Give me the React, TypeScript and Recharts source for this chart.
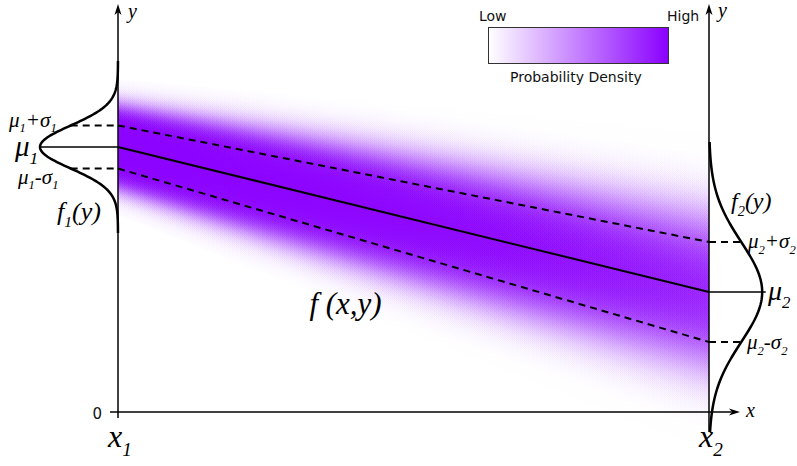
import React from "react";
import {
  ComposedChart,
  Area,
  Line,
  XAxis,
  YAxis,
  ReferenceLine,
  ReferenceDot,
} from "recharts";

const W = 797;
const H = 466;

// the two ends of the interval and the normal at each end
const ENDS = ["x1", "x2"];
const END_X = [0, 10];
const MEANS = [53, 24];
const SIGMAS = [4.3, 10];
// height of the marginal curves f1(y), f2(y), in x units
const CURVE_PEAKS = [1.32, 0.9];
// density strength at each end (colour saturates softly)
const DENSITY_PEAKS = [9, 2];
const BAND_SPREAD = 0.88;

const PURPLE = "#8a00ff";
const SERIF = "'Liberation Serif', 'DejaVu Serif', serif";
const SANS = "'DejaVu Sans', sans-serif";

// plot units -> pixels
const X0_PX = 118;
const X_SCALE = 59.1;
const Y0_PX = 412;
const Y_SCALE = 5;
const X_DOMAIN = [-X0_PX / X_SCALE, (W - X0_PX) / X_SCALE];
const Y_DOMAIN = [(Y0_PX - H) / Y_SCALE, Y0_PX / Y_SCALE];
const Y_TOP = (Y0_PX - 4) / Y_SCALE;
const X_TIP = (740 - X0_PX) / X_SCALE;

// nested bands at mean +- c*sigma, faded with a horizontal gradient
const STEP = 0.05;
const LEVELS = Array.from({ length: 72 }, (_, i) => STEP * (i + 1));
const STOPS = Array.from({ length: 11 }, (_, i) => i / 10);

const intensity = (z: number, t: number) => {
  const s = Math.pow(DENSITY_PEAKS[0], 1 - t) * Math.pow(DENSITY_PEAKS[1], t);
  return 1 - Math.exp(-s * Math.exp((-z * z) / 2));
};

const bandAlpha = (k: number, t: number) => {
  const trans = (j: number) =>
    j >= LEVELS.length ? 1 : 1 - intensity(LEVELS[j] - STEP / 2, t);
  const inner = trans(k);
  const outer = trans(k + 1);
  if (outer <= 1e-6) return 0;
  return Math.max(0, 1 - inner / outer);
};

const ROWS = END_X.map((x, i) => {
  const row: any = {
    x,
    mean: MEANS[i],
    upper: MEANS[i] + SIGMAS[i],
    lower: MEANS[i] - SIGMAS[i],
  };
  LEVELS.forEach((c, k) => {
    const half = c * BAND_SPREAD * SIGMAS[i];
    row[`b${k}`] = [MEANS[i] - half, MEANS[i] + half];
  });
  return row;
});

// marginal normal curve drawn sideways off the axis at END_X[i]
const marginal = (i: number, side: number, from: number, to: number) => {
  const pts = [];
  for (let z = from; z <= to + 1e-9; z += 0.05) {
    pts.push({
      x: END_X[i] + side * CURVE_PEAKS[i] * Math.exp((-z * z) / 2),
      y: MEANS[i] + z * SIGMAS[i],
    });
  }
  return pts;
};
const F1 = marginal(0, -1, -4, 4);
const F2 = marginal(1, 1, -2.8, 3);

type Part = [string, boolean?];

const MathText = ({
  x,
  y,
  size,
  parts,
  anchor = "start",
}: {
  x: number;
  y: number;
  size: number;
  parts: Part[];
  anchor?: string;
}) => {
  let shift = 0;
  return (
    <text
      x={x}
      y={y}
      fontFamily={SERIF}
      fontStyle="italic"
      fontSize={size}
      textAnchor={anchor as any}
      fill="#000"
    >
      {parts.map(([s, sub], i) => {
        const target = sub ? size * 0.28 : 0;
        const dy = target - shift;
        shift = target;
        return (
          <tspan key={i} dy={dy} fontSize={sub ? size * 0.6 : size}>
            {s}
          </tspan>
        );
      })}
    </text>
  );
};

const Arrow = ({ cx, cy, dir }: { cx: number; cy: number; dir: string }) => {
  const d =
    dir === "up"
      ? `M${cx},${cy} L${cx - 3.5},${cy + 11} L${cx},${cy + 8} L${cx + 3.5},${cy + 11} Z`
      : `M${cx},${cy} L${cx - 11},${cy - 3.5} L${cx - 8},${cy} L${cx - 11},${cy + 3.5} Z`;
  return <path d={d} fill="#000" />;
};

// places any svg node at a data point
const at = (
  key: string,
  x: number,
  y: number,
  draw: (cx: number, cy: number) => React.ReactElement
) => (
  <ReferenceDot
    key={key}
    x={x}
    y={y}
    r={0}
    ifOverflow="visible"
    shape={(p: any) => draw(p.cx, p.cy)}
  />
);

const seg = (
  key: string,
  a: [number, number],
  b: [number, number],
  width: number,
  dash?: string
) => (
  <ReferenceLine
    key={key}
    segment={[
      { x: a[0], y: a[1] },
      { x: b[0], y: b[1] },
    ]}
    stroke="#000"
    strokeWidth={width}
    strokeDasharray={dash}
    ifOverflow="visible"
  />
);

const ColourBar = () => (
  <svg
    width={240}
    height={90}
    style={{ position: "absolute", left: 470, top: 0 }}
  >
    <defs>
      <linearGradient id="cbar" x1="0" y1="0" x2="1" y2="0">
        <stop offset="0" stopColor="#ffffff" />
        <stop offset="1" stopColor={PURPLE} />
      </linearGradient>
    </defs>
    <rect x={18.5} y={27.5} width={180} height={36} fill="url(#cbar)" stroke="#333" strokeWidth={1} />
    <text x={9} y={21} fontFamily={SANS} fontSize={14} fill="#111">
      Low
    </text>
    <text x={197} y={21} fontFamily={SANS} fontSize={14} fill="#111">
      High
    </text>
    <text x={40} y={82} fontFamily={SANS} fontSize={14} fill="#111">
      Probability Density
    </text>
  </svg>
);

export default function App() {
  const dashEnd = [
    CURVE_PEAKS[0] * Math.exp(-0.5),
    CURVE_PEAKS[1] * Math.exp(-0.5),
  ];
  return (
    <div style={{ position: "relative", width: W, height: H, background: "#fff" }}>
      <style>{`body{margin:0}`}</style>
      <ComposedChart
        width={W}
        height={H}
        data={ROWS}
        margin={{ top: 0, right: 0, bottom: 0, left: 0 }}
      >
        <defs>
          {LEVELS.map((_, k) => (
            <linearGradient key={k} id={`band${k}`} x1="0" y1="0" x2="1" y2="0">
              {STOPS.map((t) => (
                <stop key={t} offset={t} stopColor={PURPLE} stopOpacity={bandAlpha(k, t)} />
              ))}
            </linearGradient>
          ))}
        </defs>
        <XAxis type="number" dataKey="x" domain={X_DOMAIN} hide allowDataOverflow />
        <YAxis type="number" domain={Y_DOMAIN} hide allowDataOverflow />

        {LEVELS.map((_, k) => (
          <Area
            key={`b${k}`}
            dataKey={`b${k}`}
            type="linear"
            stroke="none"
            fill={`url(#band${k})`}
            fillOpacity={1}
            dot={false}
            activeDot={false}
            isAnimationActive={false}
          />
        ))}

        {/* axes */}
        {seg("ax1", [END_X[0], -1.2], [END_X[0], Y_TOP - 1.6], 1.5)}
        {seg("ax2", [END_X[1], -4], [END_X[1], Y_TOP - 1.6], 1.5)}
        {seg("axx", [-0.135, 0], [X_TIP - 0.14, 0], 1.5)}
        {at("arr1", END_X[0], Y_TOP, (cx, cy) => <Arrow cx={cx} cy={cy} dir="up" />)}
        {at("arr2", END_X[1], Y_TOP, (cx, cy) => <Arrow cx={cx} cy={cy} dir="up" />)}
        {at("arrx", X_TIP, 0, (cx, cy) => <Arrow cx={cx} cy={cy} dir="right" />)}

        {/* mean and one-sigma lines */}
        <Line dataKey="mean" type="linear" stroke="#000" strokeWidth={2} dot={false} activeDot={false} isAnimationActive={false} />
        <Line dataKey="upper" type="linear" stroke="#000" strokeWidth={2} strokeDasharray="7 5" dot={false} activeDot={false} isAnimationActive={false} />
        <Line dataKey="lower" type="linear" stroke="#000" strokeWidth={2} strokeDasharray="7 5" dot={false} activeDot={false} isAnimationActive={false} />

        {seg("m1", [END_X[0] - CURVE_PEAKS[0], MEANS[0]], [END_X[0], MEANS[0]], 1.5)}
        {seg("u1", [END_X[0] - dashEnd[0], MEANS[0] + SIGMAS[0]], [END_X[0], MEANS[0] + SIGMAS[0]], 2, "7 5")}
        {seg("l1", [END_X[0] - dashEnd[0], MEANS[0] - SIGMAS[0]], [END_X[0], MEANS[0] - SIGMAS[0]], 2, "7 5")}
        {seg("m2", [END_X[1], MEANS[1]], [END_X[1] + 0.96, MEANS[1]], 1.5)}
        {seg("u2", [END_X[1], MEANS[1] + SIGMAS[1]], [END_X[1] + dashEnd[1], MEANS[1] + SIGMAS[1]], 2, "7 5")}
        {seg("l2", [END_X[1], MEANS[1] - SIGMAS[1]], [END_X[1] + dashEnd[1], MEANS[1] - SIGMAS[1]], 2, "7 5")}

        {/* marginal densities */}
        <Line data={F1} dataKey="y" type="linear" stroke="#000" strokeWidth={2.5} dot={false} activeDot={false} isAnimationActive={false} />
        <Line data={F2} dataKey="y" type="linear" stroke="#000" strokeWidth={2.5} dot={false} activeDot={false} isAnimationActive={false} />

        {/* labels */}
        {at("y1", END_X[0], Y_TOP, (cx, cy) => (
          <MathText x={cx + 10} y={cy + 14} size={20} parts={[["y"]]} />
        ))}
        {at("y2", END_X[1], Y_TOP, (cx, cy) => (
          <MathText x={cx + 9} y={cy + 13} size={20} parts={[["y"]]} />
        ))}
        {at("xl", X_TIP, 0, (cx, cy) => (
          <MathText x={cx + 6} y={cy + 5} size={20} parts={[["x"]]} />
        ))}
        {at("zero", END_X[0], 0, (cx, cy) => (
          <text x={cx - 16} y={cy + 7} textAnchor="end" fontFamily={SANS} fontSize={15} fill="#111">
            0
          </text>
        ))}
        {ENDS.map((name, i) =>
          at(name, END_X[i], 0, (cx, cy) => (
            <MathText x={cx + 2} y={cy + 35} size={32} anchor="middle" parts={[["x"], [String(i + 1), true]]} />
          ))
        )}

        {at("mu1s+", END_X[0], MEANS[0] + SIGMAS[0], (cx, cy) => (
          <MathText x={cx - 109} y={cy + 1} size={21} parts={[["μ"], ["1", true], ["+"], ["σ"], ["1", true]]} />
        ))}
        {at("mu1", END_X[0], MEANS[0], (cx, cy) => (
          <MathText x={cx - 103} y={cy + 9} size={29} parts={[["μ"], ["1", true]]} />
        ))}
        {at("mu1s-", END_X[0], MEANS[0] - SIGMAS[0], (cx, cy) => (
          <MathText x={cx - 100} y={cy + 15} size={21} parts={[["μ"], ["1", true], ["-"], ["σ"], ["1", true]]} />
        ))}
        {at("f1", END_X[0], MEANS[0], (cx, cy) => (
          <MathText x={cx - 61} y={cy + 73} size={26} parts={[["f"], ["1", true], ["(y)"]]} />
        ))}

        {at("f2", END_X[1], MEANS[1], (cx, cy) => (
          <MathText x={cx + 22} y={cy - 83} size={24} parts={[["f"], ["2", true], ["(y)"]]} />
        ))}
        {at("mu2s+", END_X[1], MEANS[1] + SIGMAS[1], (cx, cy) => (
          <MathText x={cx + 39} y={cy + 6} size={21} parts={[["μ"], ["2", true], ["+"], ["σ"], ["2", true]]} />
        ))}
        {at("mu2", END_X[1], MEANS[1], (cx, cy) => (
          <MathText x={cx + 59} y={cy + 8} size={28} parts={[["μ"], ["2", true]]} />
        ))}
        {at("mu2s-", END_X[1], MEANS[1] - SIGMAS[1], (cx, cy) => (
          <MathText x={cx + 38} y={cy + 7} size={21} parts={[["μ"], ["2", true], ["-"], ["σ"], ["2", true]]} />
        ))}

        {at("fxy", 3.85, 19.6, (cx, cy) => (
          <MathText x={cx} y={cy} size={31} anchor="middle" parts={[["f (x,y)"]]} />
        ))}
      </ComposedChart>
      <ColourBar />
    </div>
  );
}
